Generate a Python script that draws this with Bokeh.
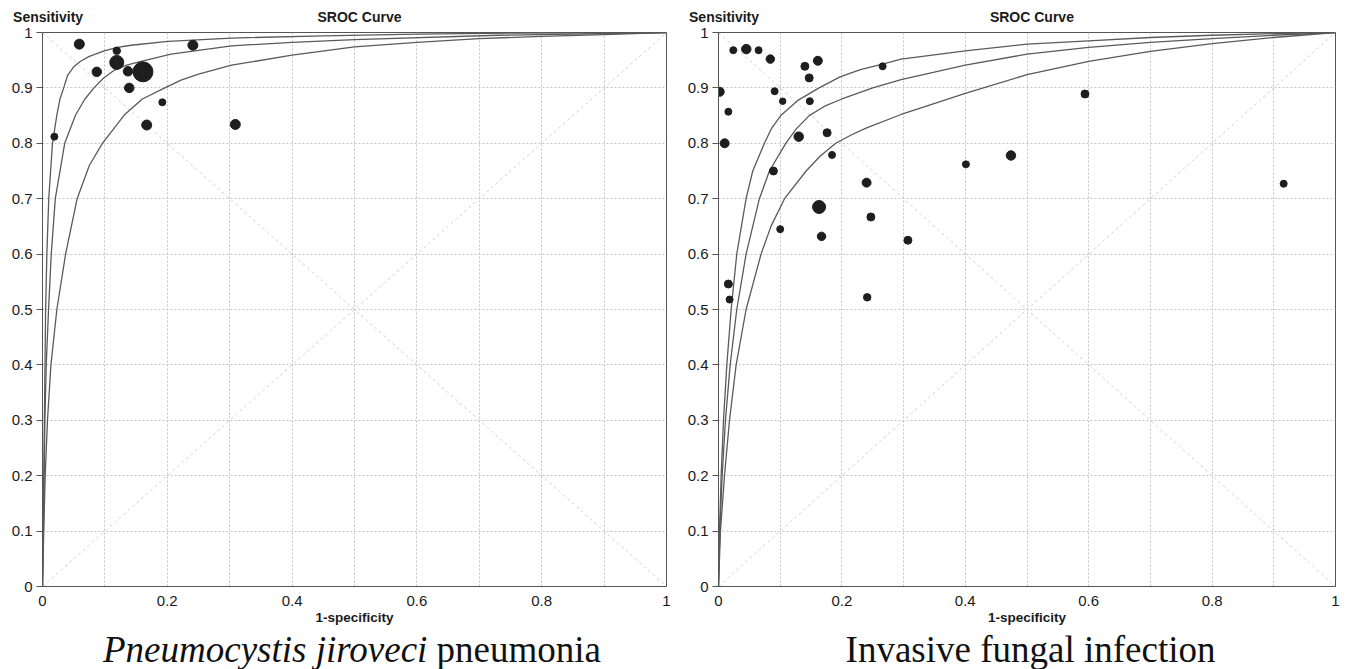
from bokeh.plotting import figure
from bokeh.layouts import row, column
from bokeh.models import FixedTicker, LinearAxis, Div
from bokeh.embed import file_html
from bokeh.resources import INLINE
import math

# ---------------- data ----------------
x_ticks = [0, 0.2, 0.4, 0.6, 0.8, 1]
x_tick_labels = ["0", "0.2", "0.4", "0.6", "0.8", "1"]
y_ticks = [0, 0.1, 0.2, 0.3, 0.4, 0.5, 0.6, 0.7, 0.8, 0.9, 1]
y_tick_labels = ["0", "0.1", "0.2", "0.3", "0.4", "0.5", "0.6", "0.7", "0.8", "0.9", "1"]
grid_ticks = [0.1, 0.2, 0.3, 0.4, 0.5, 0.6, 0.7, 0.8, 0.9]

y_title = "Sensitivity"
x_title = "1-specificity"
chart_title = "SROC Curve"

diag_up_x = [0, 1]
diag_up_y = [0, 1]
diag_down_x = [0, 1]
diag_down_y = [1, 0]

# Pneumocystis jiroveci pneumonia: studies (1-specificity, sensitivity, relative weight)
pcp_fpr = [0.059, 0.119, 0.241, 0.119, 0.087, 0.137, 0.161, 0.139, 0.192, 0.167, 0.019, 0.309]
pcp_sens = [0.979, 0.967, 0.977, 0.946, 0.929, 0.930, 0.929, 0.900, 0.874, 0.833, 0.812, 0.834]
pcp_weight = [10, 5.6, 10, 19.6, 9, 9, 40, 9, 4.9, 10, 4.9, 10]

# PCP SROC curves
pcp_a_x = [0, 0.001, 0.002, 0.003, 0.004, 0.005, 0.007, 0.010, 0.016, 0.023, 0.028, 0.034,
           0.040, 0.050, 0.061, 0.075, 0.099, 0.12, 0.142, 0.201, 0.303, 0.45, 0.6, 0.75, 1.0]
pcp_a_y = [0, 0.1, 0.2, 0.3, 0.4, 0.5, 0.6, 0.7, 0.8, 0.851, 0.88, 0.9,
           0.922, 0.938, 0.948, 0.957, 0.967, 0.973, 0.977, 0.984, 0.990, 0.994, 0.997, 0.999, 1.0]
pcp_b_x = [0, 0.0015, 0.0027, 0.0038, 0.006, 0.0097, 0.014, 0.0205, 0.0356, 0.053, 0.068,
           0.0825, 0.098, 0.115, 0.135, 0.158, 0.206, 0.303, 0.4, 0.5, 0.73, 1.0]
pcp_b_y = [0, 0.1, 0.2, 0.3, 0.4, 0.5, 0.6, 0.7, 0.8, 0.851, 0.88,
           0.9, 0.918, 0.932, 0.941, 0.948, 0.961, 0.976, 0.982, 0.987, 0.995, 1.0]
pcp_c_x = [0, 0.002, 0.0043, 0.008, 0.0135, 0.023, 0.037, 0.0555, 0.075, 0.096, 0.131,
           0.16, 0.196, 0.222, 0.25, 0.303, 0.4, 0.5, 0.6, 0.7, 0.8, 0.9, 1.0]
pcp_c_y = [0, 0.1, 0.2, 0.3, 0.4, 0.5, 0.6, 0.7, 0.76, 0.8, 0.851,
           0.88, 0.9, 0.914, 0.925, 0.941, 0.959, 0.974, 0.982, 0.989, 0.993, 0.996, 1.0]

# Invasive fungal infection: studies
ifi_fpr = [0.024, 0.045, 0.065, 0.084, 0.140, 0.161, 0.147, 0.266, 0.002, 0.091, 0.104,
           0.148, 0.016, 0.010, 0.130, 0.176, 0.184, 0.089, 0.240, 0.163, 0.100, 0.247,
           0.167, 0.307, 0.016, 0.018, 0.241, 0.401, 0.474, 0.594, 0.916]
ifi_sens = [0.968, 0.970, 0.968, 0.952, 0.939, 0.949, 0.918, 0.939, 0.893, 0.894, 0.876,
            0.876, 0.857, 0.800, 0.812, 0.819, 0.779, 0.750, 0.729, 0.685, 0.645, 0.667,
            0.632, 0.625, 0.546, 0.518, 0.522, 0.762, 0.778, 0.889, 0.727]
ifi_weight = [4.9, 9, 4.9, 7.2, 6.4, 8.1, 6.4, 4.9, 8.1, 4.9, 4.2,
              4.9, 4.9, 8.1, 9, 6.4, 4.9, 6.4, 8.1, 16.9, 4.9, 6.4,
              7.2, 6.4, 6.4, 4.9, 5.6, 4.9, 9, 6.4, 4.9]

# IFI SROC curves
ifi_a_x = [0, 0.0016, 0.0043, 0.0081, 0.0135, 0.0205, 0.0296, 0.0447, 0.0555, 0.0744, 0.086,
           0.101, 0.128, 0.163, 0.197, 0.23, 0.266, 0.296, 0.4, 0.5, 0.6, 0.7, 0.8, 0.9, 1.0]
ifi_a_y = [0, 0.1, 0.2, 0.3, 0.4, 0.5, 0.6, 0.7, 0.75, 0.8, 0.827,
           0.85, 0.877, 0.9, 0.92, 0.933, 0.943, 0.952, 0.967, 0.979, 0.985, 0.991, 0.995, 0.998, 1.0]
ifi_b_x = [0, 0.0022, 0.0059, 0.0113, 0.0189, 0.0296, 0.0447, 0.0663, 0.0825, 0.109, 0.126,
           0.147, 0.172, 0.2, 0.25, 0.296, 0.4, 0.5, 0.6, 0.7, 0.8, 0.9, 1.0]
ifi_b_y = [0, 0.1, 0.2, 0.3, 0.4, 0.5, 0.6, 0.7, 0.75, 0.8, 0.826,
           0.85, 0.867, 0.88, 0.9, 0.915, 0.941, 0.961, 0.973, 0.982, 0.989, 0.995, 1.0]
ifi_c_x = [0, 0.0032, 0.0097, 0.0178, 0.0286, 0.0447, 0.069, 0.085, 0.107, 0.142, 0.165,
           0.19, 0.215, 0.24, 0.296, 0.4, 0.5, 0.6, 0.7, 0.8, 0.9, 1.0]
ifi_c_y = [0, 0.1, 0.2, 0.3, 0.4, 0.5, 0.6, 0.65, 0.7, 0.75, 0.777,
           0.8, 0.815, 0.828, 0.852, 0.89, 0.924, 0.948, 0.966, 0.98, 0.991, 1.0]

# ---------------- styling ----------------
SANS = "Liberation Sans"
SERIF = "Liberation Serif"
AXIS_COLOR = "#555555"
GRID_COLOR = "#c4c4c4"
CURVE_COLOR = "#5a5a5a"
POINT_COLOR = "#1e1e1e"
TEXT_COLOR = "#1a1a1a"
FIG_H = 627


def make_panel(width, border_left, border_right, fpr, sens, weight, curves):
    p = figure(width=width, height=FIG_H, x_range=(0, 1), y_range=(0, 1),
               output_backend="svg", toolbar_location=None,
               min_border_left=border_left, min_border_right=border_right,
               min_border_top=32, min_border_bottom=40,
               background_fill_color="white", border_fill_color="white")
    p.outline_line_color = AXIS_COLOR
    p.outline_line_width = 1

    # axes
    p.xaxis.ticker = FixedTicker(ticks=x_ticks)
    p.xaxis.major_label_overrides = {t: l for t, l in zip(x_ticks, x_tick_labels)}
    p.xaxis.major_tick_line_color = None
    p.xaxis.minor_tick_line_color = None
    p.xaxis.axis_label = x_title
    p.xaxis.axis_label_text_font = SANS
    p.xaxis.axis_label_text_font_style = "bold"
    p.xaxis.axis_label_text_font_size = "13.5px"
    p.xaxis.axis_label_text_color = TEXT_COLOR
    p.xaxis.axis_label_standoff = 1
    p.xaxis.major_label_standoff = 3

    p.yaxis.ticker = FixedTicker(ticks=y_ticks)
    p.yaxis.major_label_overrides = {t: l for t, l in zip(y_ticks, y_tick_labels)}
    p.yaxis.major_tick_in = 0
    p.yaxis.major_tick_out = 6
    p.yaxis.major_tick_line_color = AXIS_COLOR
    p.yaxis.minor_tick_line_color = None
    p.yaxis.major_label_standoff = 4

    for ax in (p.xaxis, p.yaxis):
        ax.axis_line_color = AXIS_COLOR
        ax.major_label_text_font = SANS
        ax.major_label_text_font_size = "15px"
        ax.major_label_text_color = TEXT_COLOR

    # header texts ("Sensitivity" at the top left, "SROC Curve" centred)
    header = LinearAxis(ticker=FixedTicker(ticks=[0.009, 0.508]),
                        major_label_overrides={0.009: y_title, 0.508: chart_title},
                        axis_line_color=None, major_tick_line_color=None,
                        minor_tick_line_color=None, major_tick_out=0, major_tick_in=0,
                        major_label_standoff=8,
                        major_label_text_font=SANS, major_label_text_font_style="bold",
                        major_label_text_font_size="14px",
                        major_label_text_color=TEXT_COLOR)
    p.add_layout(header, "above")

    # grid
    p.xgrid.ticker = FixedTicker(ticks=grid_ticks)
    p.ygrid.ticker = FixedTicker(ticks=grid_ticks)
    for g in (p.xgrid, p.ygrid):
        g.grid_line_color = GRID_COLOR
        g.grid_line_dash = "2 2"
        g.grid_line_width = 1

    # diagonals
    p.line(diag_up_x, diag_up_y, line_color="#d2d2d2", line_dash="3 3", line_width=1)
    p.line(diag_down_x, diag_down_y, line_color="#d2d2d2", line_dash="3 3", line_width=1)

    # SROC curves
    for cx, cy in curves:
        p.line(cx, cy, line_color=CURVE_COLOR, line_width=1.3, line_join="round")

    # studies
    sizes = [3.16 * math.sqrt(w) for w in weight]
    p.scatter(fpr, sens, size=sizes, marker="circle",
              fill_color=POINT_COLOR, line_color=POINT_COLOR)
    return p


def caption(html, width, pad_left):
    return Div(text=html, width=width, height=42,
               styles={"font-family": SERIF, "font-size": "37px", "line-height": "35px",
                       "padding-left": f"{pad_left}px", "box-sizing": "border-box",
                       "text-align": "center", "color": "#111111", "white-space": "nowrap",
                       "overflow": "visible"})


p1 = make_panel(684, 42, 18, pcp_fpr, pcp_sens, pcp_weight,
                [(pcp_a_x, pcp_a_y), (pcp_b_x, pcp_b_y), (pcp_c_x, pcp_c_y)])
p2 = make_panel(663, 34, 12, ifi_fpr, ifi_sens, ifi_weight,
                [(ifi_a_x, ifi_a_y), (ifi_b_x, ifi_b_y), (ifi_c_x, ifi_c_y)])

d1 = caption("<i>Pneumocystis jiroveci</i> pneumonia", 684, 10)
d2 = caption("Invasive fungal infection", 663, 0)

layout = column(row(p1, p2), row(d1, d2))
open("out.html", "w").write(file_html(layout, INLINE))
